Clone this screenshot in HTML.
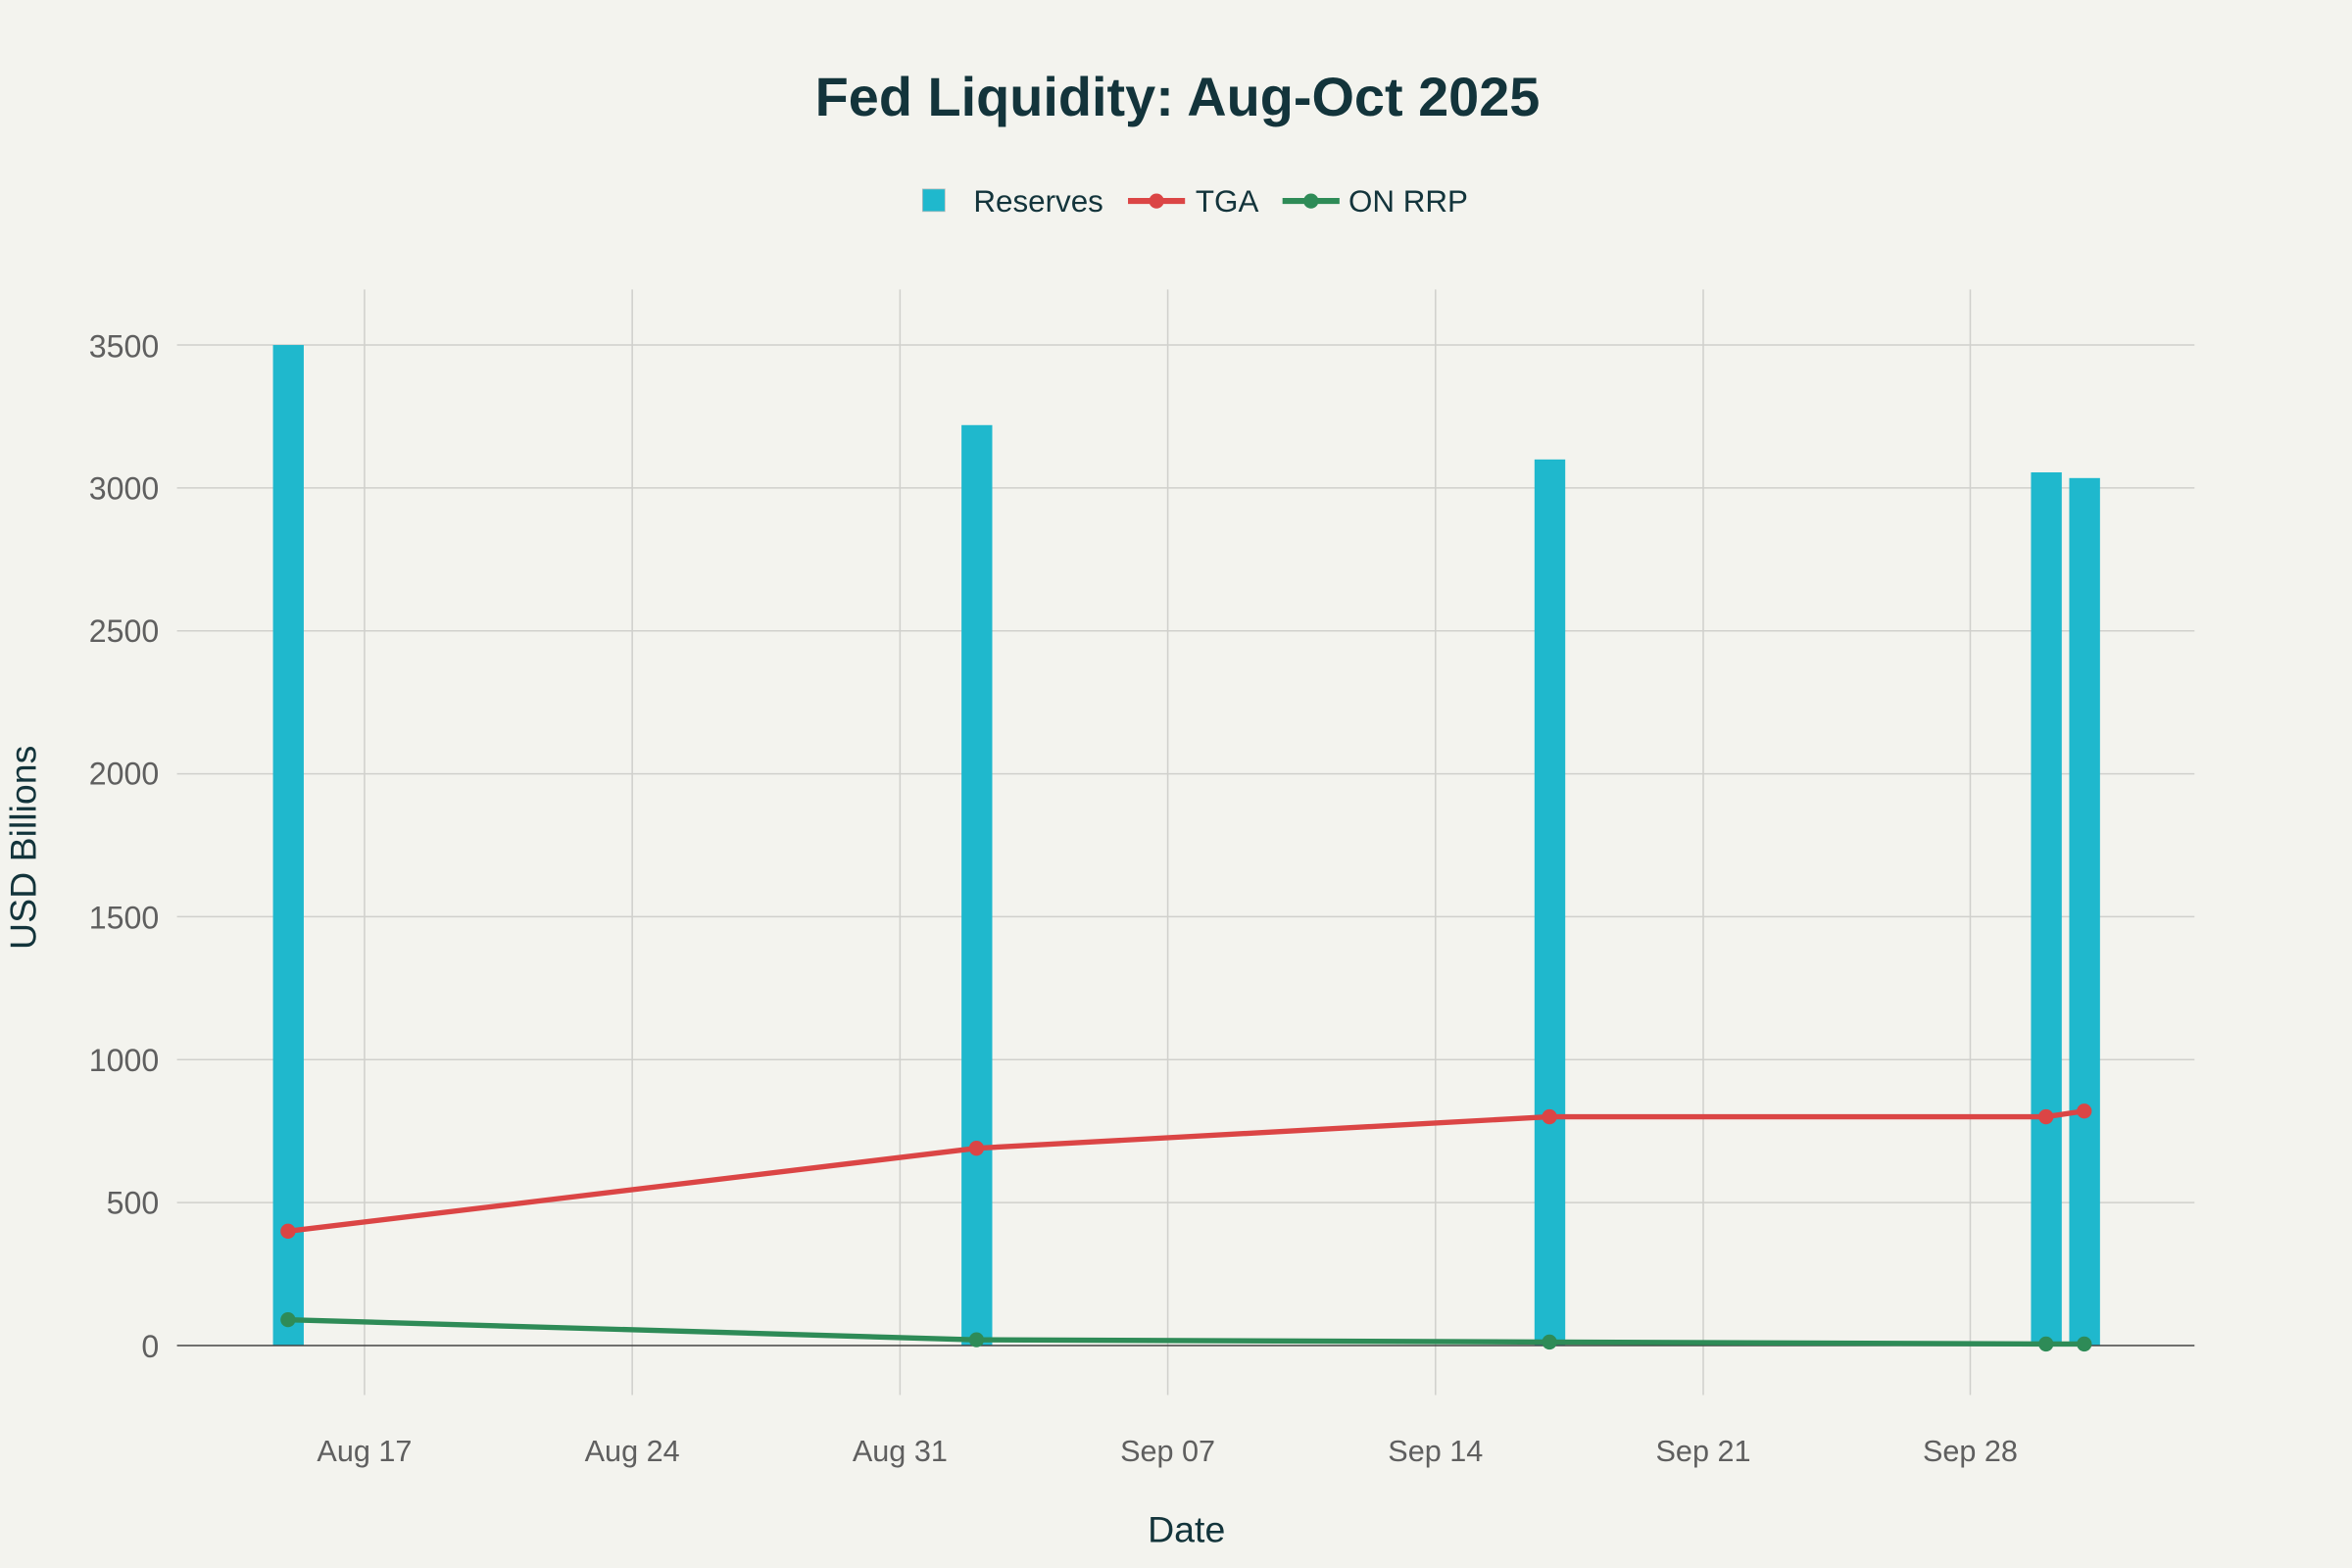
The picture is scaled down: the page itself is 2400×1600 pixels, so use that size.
<!DOCTYPE html>
<html><head><meta charset="utf-8"><style>
html,body{margin:0;padding:0;background:#f3f3ee;}
svg{display:block;font-family:"Liberation Sans",sans-serif;}
</style></head><body>
<svg width="2400" height="1600" viewBox="0 0 1568 1045.33" xmlns="http://www.w3.org/2000/svg">
<rect width="1568" height="1046" fill="#f3f3ee"/>
<text x="785" y="77" text-anchor="middle" font-size="36.5" font-weight="bold" fill="#13343b">Fed Liquidity: Aug-Oct 2025</text>
<!-- legend -->
<rect x="615" y="126" width="15" height="15" fill="#1fb8cd" stroke="#bbb" stroke-width="0.5"/>
<text x="649" y="141" font-size="20.5" fill="#13343b">Reserves</text>
<line x1="752" y1="134" x2="790" y2="134" stroke="#db4545" stroke-width="4"/>
<circle cx="771" cy="134" r="5" fill="#db4545"/>
<text x="797" y="141" font-size="20.5" fill="#13343b">TGA</text>
<line x1="855" y1="134" x2="893" y2="134" stroke="#2e8b57" stroke-width="4"/>
<circle cx="874" cy="134" r="5" fill="#2e8b57"/>
<text x="899" y="141" font-size="20.5" fill="#13343b">ON RRP</text>
<!-- grid -->
<g stroke="#d0d0cc" stroke-width="1">
<line x1="118" x2="1463" y1="230" y2="230"/>
<line x1="118" x2="1463" y1="325.3" y2="325.3"/>
<line x1="118" x2="1463" y1="420.6" y2="420.6"/>
<line x1="118" x2="1463" y1="515.9" y2="515.9"/>
<line x1="118" x2="1463" y1="611.1" y2="611.1"/>
<line x1="118" x2="1463" y1="706.4" y2="706.4"/>
<line x1="118" x2="1463" y1="801.7" y2="801.7"/>
<line x1="243" x2="243" y1="193" y2="930"/>
<line x1="421.5" x2="421.5" y1="193" y2="930"/>
<line x1="600" x2="600" y1="193" y2="930"/>
<line x1="778.5" x2="778.5" y1="193" y2="930"/>
<line x1="957" x2="957" y1="193" y2="930"/>
<line x1="1135.5" x2="1135.5" y1="193" y2="930"/>
<line x1="1313.5" x2="1313.5" y1="193" y2="930"/>
</g>
<!-- bars -->
<g fill="#1fb8cd">
<rect x="182" y="230" width="20.5" height="667"/>
<rect x="641" y="283.4" width="20.5" height="613.6"/>
<rect x="1023" y="306.3" width="20.5" height="590.7"/>
<rect x="1354" y="314.9" width="20.5" height="582.1"/>
<rect x="1379.5" y="318.7" width="20.5" height="578.3"/>
</g>
<line x1="118" x2="1463" y1="897" y2="897" stroke="#444" stroke-width="1"/>
<!-- TGA -->
<polyline points="192,820.8 651,765.5 1033,744.5 1364,744.5 1389.5,740.7" fill="none" stroke="#db4545" stroke-width="3.5"/>
<g fill="#db4545"><circle cx="192" cy="820.8" r="5"/><circle cx="651" cy="765.5" r="5"/><circle cx="1033" cy="744.5" r="5"/><circle cx="1364" cy="744.5" r="5"/><circle cx="1389.5" cy="740.7" r="5"/></g>
<!-- RRP -->
<polyline points="192,879.8 651,893.2 1033,894.7 1364,896 1389.5,896" fill="none" stroke="#2e8b57" stroke-width="3.5"/>
<g fill="#2e8b57"><circle cx="192" cy="879.8" r="5"/><circle cx="651" cy="893.2" r="5"/><circle cx="1033" cy="894.7" r="5"/><circle cx="1364" cy="896" r="5"/><circle cx="1389.5" cy="896" r="5"/></g>
<!-- y ticks -->
<g font-size="21" fill="#5f5f5f" text-anchor="end">
<text x="106" y="238">3500</text><text x="106" y="333">3000</text><text x="106" y="428">2500</text><text x="106" y="523">2000</text><text x="106" y="619">1500</text><text x="106" y="714">1000</text><text x="106" y="809">500</text><text x="106" y="905">0</text>
</g>
<g font-size="20" fill="#5f5f5f" text-anchor="middle">
<text x="243" y="974">Aug 17</text><text x="421.5" y="974">Aug 24</text><text x="600" y="974">Aug 31</text><text x="778.5" y="974">Sep 07</text><text x="957" y="974">Sep 14</text><text x="1135.5" y="974">Sep 21</text><text x="1313.5" y="974">Sep 28</text>
</g>
<text x="791" y="1028" text-anchor="middle" font-size="24.5" fill="#13343b">Date</text>
<text transform="translate(24,565) rotate(-90)" text-anchor="middle" font-size="24.5" fill="#13343b">USD Billions</text>
</svg>
</body></html>
